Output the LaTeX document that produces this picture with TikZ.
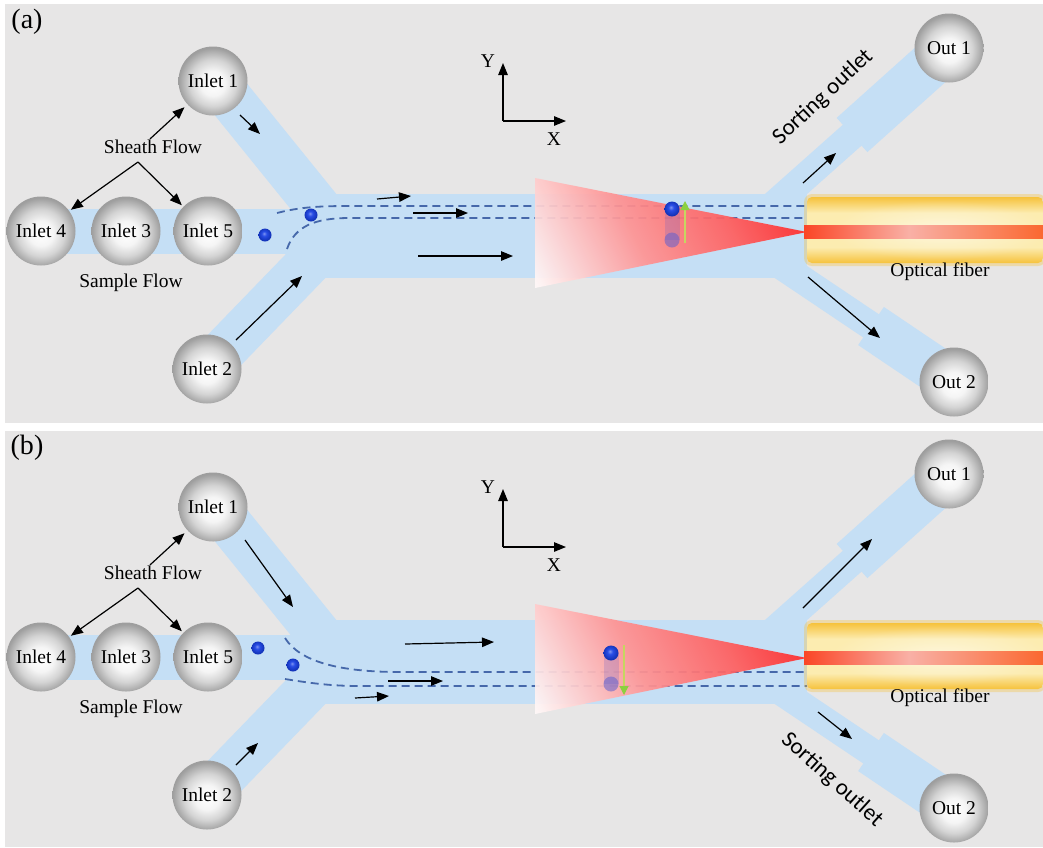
\documentclass[tikz,border=0pt]{standalone}
\usepackage{fontspec}
\setmainfont{Liberation Serif}
\newfontfamily\outletfont{Carlito}
\usetikzlibrary{arrows.meta,fadings}

% palette
\definecolor{panelbg}{RGB}{231,230,230}
\definecolor{chancol}{RGB}{197,223,245}
\definecolor{streamcol}{RGB}{70,104,170}
\definecolor{gold}{RGB}{246,194,60}
\definecolor{cream}{RGB}{252,236,176}
\definecolor{coreL}{RGB}{250,70,38}
\definecolor{coreR}{RGB}{250,104,48}
\definecolor{coremid}{RGB}{249,176,166}
\definecolor{partblue}{RGB}{22,62,228}
\definecolor{ghost}{RGB}{96,96,206}
\definecolor{greenhead}{RGB}{140,208,64}
\definecolor{greenshaft}{RGB}{198,214,96}

% shadings
\pgfdeclareradialshading{portball}{\pgfpoint{0bp}{-2bp}}{%
  color(0bp)=(white); color(9bp)=(white!96!black); color(17bp)=(black!17);
  color(22bp)=(black!30); color(25bp)=(black!38); color(50bp)=(black!38)}
\pgfdeclareradialshading{partball}{\pgfpoint{-4bp}{6bp}}{%
  color(0bp)=(partblue!55!white); color(9bp)=(partblue!92!white);
  color(25bp)=(partblue!80!black); color(50bp)=(partblue!80!black)}
\pgfdeclareverticalshading{conefade}{100bp}{%
  color(0bp)=(white); color(17bp)=(white!97!red); color(42bp)=(red!42!white);
  color(62bp)=(red!62!white); color(82bp)=(red!88!white); color(100bp)=(red!88!white)}
\pgfdeclareverticalshading{fiberfill}{100bp}{%
  color(0bp)=(gold); color(25bp)=(gold); color(37bp)=(cream); color(63bp)=(cream);
  color(75bp)=(gold); color(100bp)=(gold)}
\pgfdeclarehorizontalshading{fibercore}{100bp}{%
  color(0bp)=(coreL); color(25bp)=(coreL); color(47bp)=(coremid);
  color(75bp)=(coreR); color(100bp)=(coreR)}
\tikzfading[name=glowfade, inner color=transparent!0, outer color=transparent!100]

\tikzset{
  chan/.style={line width=#1, chancol, line cap=butt},
  port/.style={circle, minimum size=69pt, inner sep=0pt, shade, shading=portball,
    font=\fontsize{19.5}{22}\selectfont},
  lbl/.style={font=\fontsize{19.5}{22}\selectfont, inner sep=1pt},
  flow/.style={-{Triangle[length=12pt,width=9.5pt]}, line width=1.2pt, black},
  streamline/.style={dash pattern=on 8pt off 5pt, line width=1.8pt, streamcol},
  outletlbl/.style={font=\outletfont\fontsize{23}{26}\selectfont},
  tag/.style={font=\fontsize{28}{30}\selectfont},
  bead/.style={shading=partball},
}

% microchannel network
\newcommand\chipchannels{%
  \fill[chancol] (300,194) rectangle (807,278);
  \draw[chan=45pt] (41,231) -- (302,231);
  \draw[chan=45pt] (216,81) -- (326,217);
  \draw[chan=45pt] (207,368) -- (325,246);
  \draw[chan=28pt] (768,210) -- (853.5,134);
  \draw[chan=46pt] (852,135) -- (949,48);
  \draw[chan=28pt] (776,262) -- (872,326.5);
  \draw[chan=46pt] (871,326) -- (954,382);
}

% laser cone and optical fiber
\newcommand\chipoptics{%
  \shade[shading=conefade, shading angle=-63, fill opacity=0.93]
    (535,178) -- (807,232) -- (535,288) -- cycle;
  \fill[gold, opacity=0.35, rounded corners=8pt] (804,194) rectangle (1046,266);
  \shade[shading=fiberfill, rounded corners=5pt] (807,197) rectangle (1043,263);
  \fill[white, opacity=0.55, path fading=glowfade] (940,230) ellipse (110 and 30);
  \shade[shading=fibercore] (804,225) rectangle (1043,238);
}

% ports, labels, coordinate axes
\newcommand\chipports[1]{%
  \node[port] (in1) at (213,81) {Inlet 1};
  \node[port] (in4) at (41,231) {Inlet 4};
  \node[port] (in3) at (126,231) {Inlet 3};
  \node[port] (in5) at (208,231) {Inlet 5};
  \node[port] (in2) at (207,369) {Inlet 2};
  \node[port] (out1) at (949,48) {Out 1};
  \node[port] (out2) at (954,382) {Out 2};
  \node[lbl] (sheath) at (153,147) {Sheath Flow};
  \node[lbl] (sample) at (131,283) {Sample Flow};
  \node[lbl] (fiber) at (940,272) {Optical fiber};
  \node[tag] (tag) at (27,22) {(#1)};
  \coordinate (fork) at (138,162);
  \draw[flow, shorten >=4pt] ([xshift=-3pt]sheath.north) -- (in1);
  \draw[flow, shorten >=2pt] (fork) -- (in4);
  \draw[flow, shorten >=2pt] (fork) -- (in5);
  \coordinate (origin) at (503,121);
  \coordinate (ytip) at (503,63);
  \coordinate (xtip) at (566,121);
  \draw[flow] (origin) -- (ytip);
  \draw[flow] (origin) -- (xtip);
  \node[lbl] (ylab) at (488,61) {Y};
  \node[lbl] (xlab) at (554,139) {X};
}

\begin{document}
\begin{tikzpicture}[x=1pt,y=-1pt]
\useasboundingbox (0,0) rectangle (1043,847);
\fill[white] (0,0) rectangle (1043,847);
\fill[panelbg] (5,4) rectangle (1043,423);
\fill[panelbg] (5,431) rectangle (1043,847);

% ---------- (a): bead deflected towards the upper outlet ----------
\begin{scope}[name prefix=a-]
  \chipchannels
  \draw[streamline] (277,213) .. controls (300,207) and (320,206) .. (350,206) -- (807,206);
  \draw[streamline] (287,249) .. controls (295,226) and (315,218) .. (350,218) -- (812,218);
  \chipoptics
  \shade[bead] (265,235) circle (6.5);
  \shade[bead] (311,215) circle (6.5);
  \fill[ghost, opacity=0.22] (664.5,209) rectangle (679.5,240);
  \fill[ghost, opacity=0.55] (672,240) circle (7.5);
  \shade[bead] (672,209) circle (7.5);
  \draw[greenshaft, line width=1.2pt, -{Triangle[length=9pt,width=9pt,color=greenhead]}]
    (685,243) -- (685,201);
  \chipports{a}
  \draw[flow] (240,115) -- (260,134);
  \draw[flow] (236,340) -- (302,276);
  \draw[flow] (377,199) -- (411,196);
  \draw[flow] (413,213) -- (468,213);
  \draw[flow] (418,256) -- (513,256);
  \draw[flow] (803,183) -- (836,153);
  \draw[flow] (808,277) -- (880,338);
  \node[outletlbl, rotate=43] (sort) at (823,97) {Sorting outlet};
\end{scope}

% ---------- (b): bead deflected towards the lower outlet ----------
\begin{scope}[shift={(0,426)}, name prefix=b-]
  \chipchannels
  \draw[streamline] (285,212) .. controls (300,236) and (340,246) .. (400,246) -- (807,246);
  \draw[streamline] (285,253) .. controls (310,257) and (330,260) .. (360,260) -- (807,260);
  \chipoptics
  \shade[bead] (258,222) circle (6.5);
  \shade[bead] (293,239) circle (6.5);
  \fill[ghost, opacity=0.22] (603.5,227) rectangle (618.5,258);
  \fill[ghost, opacity=0.55] (611,258) circle (7.5);
  \shade[bead] (611,227) circle (7.5);
  \draw[greenshaft, line width=1.2pt, -{Triangle[length=9pt,width=9pt,color=greenhead]}]
    (624,219) -- (624,269);
  \chipports{b}
  \draw[flow] (245,114) -- (293,181);
  \draw[flow] (236,339) -- (258,317);
  \draw[flow] (405,218) -- (494,216);
  \draw[flow] (388,255) -- (443,255);
  \draw[flow] (355,272) -- (389,270);
  \draw[flow] (803,182) -- (872,113);
  \draw[flow] (818,286) -- (852,313);
  \node[outletlbl, rotate=-42] (sort) at (832,354) {Sorting outlet};
\end{scope}
\end{tikzpicture}
\end{document}
